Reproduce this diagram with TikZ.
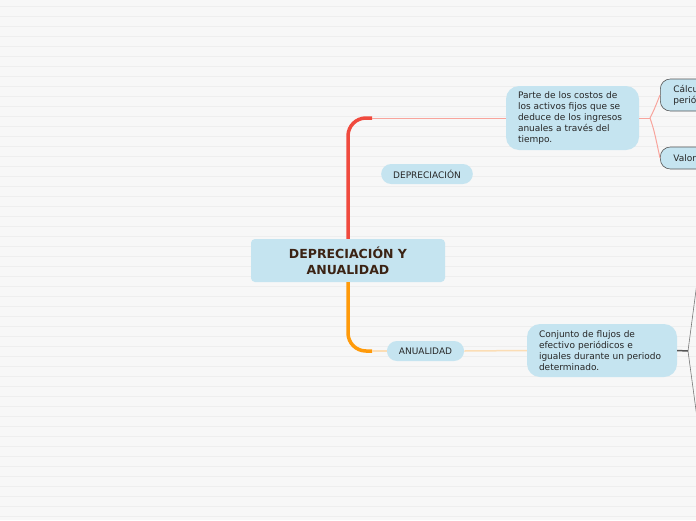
\documentclass[tikz,border=0pt]{standalone}
\usepackage{fontspec}
\setmainfont{DejaVu Sans}
\usetikzlibrary{positioning}
\definecolor{paper}{HTML}{F7F7F7}
\definecolor{ruling}{HTML}{EEEEEE}
\definecolor{topicblue}{HTML}{C5E4F0}
\definecolor{rootbrown}{HTML}{3B2314}
\definecolor{redbranch}{HTML}{F04A3E}
\definecolor{redtwig}{HTML}{F8A49C}
\definecolor{orangebranch}{HTML}{FF9A0A}
\definecolor{orangetwig}{HTML}{FBDDB5}
\definecolor{twiggray}{HTML}{555555}
\tikzset{
  topic/.style={fill=topicblue, text=black!85, inner sep=0pt,
    font=\fontsize{9}{11}\selectfont},
  root/.style={topic, rounded corners=4pt, minimum width=194pt, minimum height=43pt,
    align=center, text=rootbrown, font=\fontsize{12.5}{16}\selectfont\bfseries},
  pill/.style={topic, rounded corners=10pt, minimum height=20pt, inner xsep=12pt},
  note/.style={topic, rounded corners=13pt, align=left, inner xsep=12pt},
  stub/.style={topic, draw=twiggray, line width=0.6pt, rounded corners=10pt,
    align=left, inner xsep=13pt, anchor=west, text width=40pt},
  branch/.style={line width=3.5pt, rounded corners=18pt},
  twig/.style={line width=1pt},
}

\begin{document}
\begin{tikzpicture}[x=1pt, y=-1pt]
  \useasboundingbox (0,0) rectangle (696,520);
  \fill[paper] (0,0) rectangle (696,520);
  \foreach \y in {6,16,...,516} \draw[ruling, line width=1pt] (0,\y) -- (696,\y);

  \node[root] (root) at (348,260.5) {DEPRECIACIÓN Y\\ANUALIDAD};
  \node[pill] (dep) at (427,174) {DEPRECIACIÓN};
  \node[note, text width=109pt, minimum height=64pt] (def) at (572.5,118)
    {Parte de los costos de\\los activos fijos que se\\deduce de los ingresos\\anuales a través del\\tiempo.};
  \node[stub, minimum height=32pt] (calc) at (660,95) {Cálcu\\perió};
  \node[stub, minimum height=22pt] (valor) at (660,158) {Valor};
  \node[pill] (anual) at (425.5,351) {ANUALIDAD};
  \node[note, text width=126pt, minimum height=53pt] (flows) at (602,350.5)
    {Conjunto de flujos de\\efectivo periódicos e\\iguales durante un periodo\\determinado.};

  % red side
  \coordinate (redbend) at (372,118);
  \coordinate (redfork) at (650,118);
  \draw[branch, redbranch] (root.north) |- (redbend);
  \draw[twig, redtwig] (redbend) -- (def.west);
  \draw[twig, redtwig] (def.east) -- (redfork);
  \draw[twig, redtwig] (redfork) .. controls (654,110) .. (calc.west);
  \draw[twig, redtwig] (redfork) .. controls (654,130) .. (valor.west);

  % orange side
  \coordinate (orangebend) at (372,351);
  \coordinate (grayfork) at (688,351);
  \coordinate (grayup) at (698,275);
  \coordinate (graydown) at (698,425);
  \draw[branch, orangebranch] (root.south) |- (orangebend);
  \draw[twig, orangetwig, line width=1.5pt] (orangebend) -- (anual.west);
  \draw[twig, orangetwig, line width=1.5pt] (anual.east) -- (flows.west);
  \draw[twiggray, line width=1.5pt] (flows.east) -- (grayfork);
  \draw[twiggray!80, line width=0.6pt] (grayfork) -- (grayup);
  \draw[twiggray!80, line width=0.6pt] (grayfork) -- (graydown);
\end{tikzpicture}
\end{document}
